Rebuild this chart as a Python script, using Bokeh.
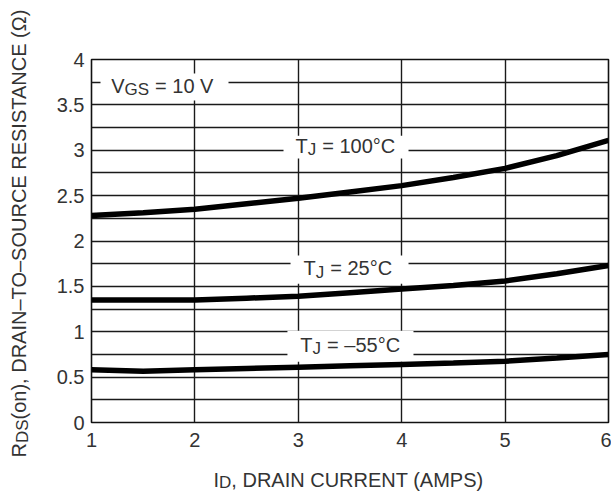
import math
from bokeh.plotting import figure
from bokeh.layouts import row, column
from bokeh.models import Label, BoxAnnotation, FixedTicker, Range1d
from bokeh.embed import file_html
from bokeh.resources import INLINE

# ---- data ----
current = [1, 1.5, 2, 2.5, 3, 3.5, 4, 4.5, 5, 5.5, 6]
r_100 = [2.28, 2.31, 2.35, 2.41, 2.47, 2.54, 2.61, 2.70, 2.80, 2.94, 3.11]
r_25 = [1.35, 1.35, 1.35, 1.37, 1.39, 1.43, 1.47, 1.51, 1.56, 1.64, 1.73]
r_m55 = [0.58, 0.565, 0.58, 0.595, 0.61, 0.625, 0.64, 0.655, 0.675, 0.71, 0.75]

x_ticks = [1, 2, 3, 4, 5, 6]
x_tick_labels = ["1", "2", "3", "4", "5", "6"]
y_ticks = [0, 0.5, 1, 1.5, 2, 2.5, 3, 3.5, 4]
y_tick_labels = ["0", "0.5", "1", "1.5", "2", "2.5", "3", "3.5", "4"]
y_grid = [0.25 * i for i in range(1, 16)]
x_grid = [2, 3, 4, 5]

FONT = "Liberation Sans"
TXT = "#333333"
MAIN = 20
SUB = 17
LIFT = 7   # the label anchor sits about this far above the drawn baseline

W = {' ': 278, '(': 333, ')': 333, ',': 278, '–': 556, '=': 584, '°': 400, '.': 278,
     'A': 667, 'C': 722, 'D': 722, 'E': 667, 'G': 778, 'I': 278, 'J': 500, 'M': 833,
     'N': 722, 'O': 778, 'P': 667, 'R': 722, 'S': 667, 'T': 611, 'U': 722, 'V': 667,
     'Ω': 768, 'o': 556, 'n': 556}


def adv(s, size):
    return sum(W.get(c, 556) for c in s) / 1000.0 * size


TOTAL_W, TOTAL_H = 611, 493
LW = 40                      # width of the y-title strip
FL, FR, FT, FB = 91, 608, 59, 422   # frame edges on the page
MH = 458                     # height of the main figure

p = figure(width=TOTAL_W - LW, height=MH, x_range=(1, 6), y_range=(0, 4),
           output_backend="svg", toolbar_location=None,
           min_border_left=FL - LW, min_border_right=TOTAL_W - FR,
           min_border_top=FT, min_border_bottom=MH - FB)
p.background_fill_color = "white"
p.border_fill_color = "white"
p.outline_line_color = "#111111"
p.outline_line_width = 1.6

for ax in (p.xaxis[0], p.yaxis[0]):
    ax.axis_line_color = None
    ax.major_tick_line_color = None
    ax.minor_tick_line_color = None
    ax.major_tick_out = 0
    ax.major_tick_in = 0
    ax.major_label_text_font = FONT
    ax.major_label_text_font_size = f"{MAIN}px"
    ax.major_label_text_color = TXT

p.xaxis.ticker = FixedTicker(ticks=x_ticks)
p.xaxis.major_label_overrides = {t: l for t, l in zip(x_ticks, x_tick_labels)}
p.xaxis.major_label_standoff = 10
p.yaxis.ticker = FixedTicker(ticks=y_ticks)
p.yaxis.major_label_standoff = 7
p.yaxis.major_label_overrides = {t: l for t, l in zip(y_ticks, y_tick_labels)}

p.xgrid.ticker = FixedTicker(ticks=x_grid)
p.ygrid.ticker = FixedTicker(ticks=y_grid)
for g in (p.xgrid[0], p.ygrid[0]):
    g.grid_line_color = "#1a1a1a"
    g.grid_line_width = 1.4


def lab(fig, x, y, text, size, angle=0.0, xo=0, yo=0):
    fig.add_layout(Label(x=x, y=y, text=text, angle=angle, x_offset=xo, y_offset=yo,
                         text_font=FONT, text_font_size=f"{size}px", text_color=TXT,
                         text_baseline="alphabetic", text_align="left", level="overlay"))


def box(l, r, b, t):
    p.add_layout(BoxAnnotation(left=l, right=r, bottom=b, top=t, fill_color="white",
                               fill_alpha=1.0, line_alpha=0.0, level="underlay"))


def sub_label(x, y, main, sub, rest):
    lab(p, x, y, main, MAIN, yo=LIFT)
    lab(p, x, y, sub, SUB, xo=adv(main, MAIN), yo=LIFT - 4)
    lab(p, x, y, rest, MAIN, xo=adv(main, MAIN) + adv(sub, SUB) + 6, yo=LIFT)


# white gaps behind in-plot labels
box(1.087, 2.325, 3.548, 3.845)
box(2.857, 4.066, 2.909, 3.16)
box(2.925, 4.066, 1.53, 1.84)
box(2.895, 4.114, 0.67, 1.01)

for ys in (r_100, r_25, r_m55):
    p.line(current, ys, line_color="black", line_width=5.5)

sub_label(1.19, 3.636, "V", "GS", " = 10 V")
sub_label(2.973, 2.975, "T", "J", " = 100°C")
sub_label(3.05, 1.62, "T", "J", " = 25°C")
sub_label(3.02, 0.78, "T", "J", " = –55°C")


def strip(w, h, xr, yr, bl=0, br=0):
    f = figure(width=w, height=h, x_range=xr, y_range=yr,
               output_backend="svg", toolbar_location=None,
               x_axis_location=None, y_axis_location=None,
               min_border=0, min_border_left=bl, min_border_right=br,
               min_border_top=0, min_border_bottom=0)
    f.outline_line_color = None
    f.background_fill_color = "white"
    f.border_fill_color = "white"
    f.grid.grid_line_color = None
    return f


# x-axis title strip: coordinates are page pixels (x right, y down)
xf = strip(TOTAL_W - LW, TOTAL_H - MH, Range1d(FL, FR), Range1d(TOTAL_H, MH),
           bl=FL - LW, br=TOTAL_W - FR)
xl = 213
xb = 486 - LIFT
lab(xf, xl, xb, "I", MAIN)
lab(xf, xl + adv("I", MAIN), xb + 3, "D", SUB)
lab(xf, xl + adv("I", MAIN) + adv("D", SUB), xb, ", DRAIN CURRENT (AMPS)", MAIN)

# y-axis title strip (rotated): coordinates are page pixels (x right, y down)
yf = strip(LW, TOTAL_H, Range1d(0, LW), Range1d(TOTAL_H, 0))
a = math.pi / 2
y0 = 457
bx = 27 - 9
lab(yf, bx, y0, "R", MAIN, angle=a)
lab(yf, bx + 4, y0 - adv("R", MAIN), "DS", SUB, angle=a)
lab(yf, bx, y0 - adv("R", MAIN) - adv("DS", SUB), "(on), DRAIN–TO–SOURCE RESISTANCE (Ω)", MAIN,
    angle=a)

layout = row(yf, column(p, xf, spacing=0), spacing=0)
open("out.html", "w").write(file_html(layout, INLINE))
